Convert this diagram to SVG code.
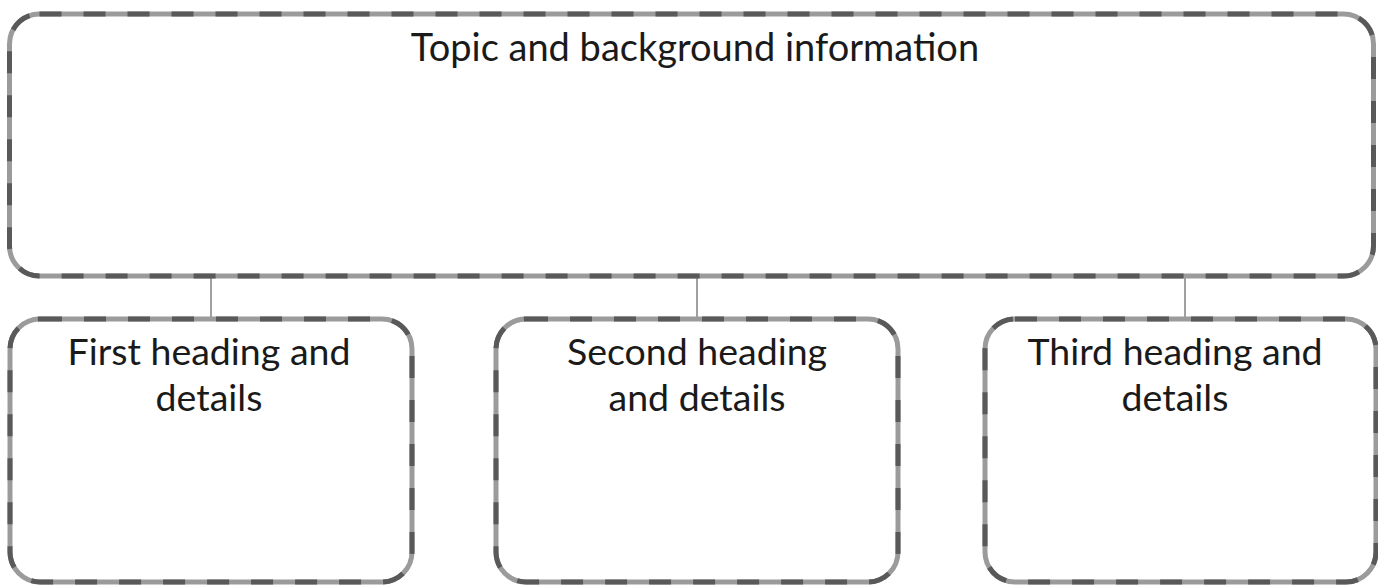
<svg xmlns="http://www.w3.org/2000/svg" width="1378" height="586" viewBox="0 0 1378 586">
<style>
.base{fill:none;stroke:#9b9b9b;stroke-width:5}
.dash{fill:none;stroke:#595959;stroke-width:5;stroke-dasharray:22 22}
.conn{stroke:#a0a0a0;stroke-width:2;fill:none}
text{font-family:Lato,"Open Sans","Liberation Sans",sans-serif;fill:#1a1a1a;text-anchor:middle}
.t{font-size:38px}
.s{font-size:37.5px}
</style>
<rect width="1378" height="586" fill="#fff"/>
<g id="connectors">
<line class="conn" x1="211" y1="278" x2="211" y2="317"/>
<line class="conn" x1="697" y1="278" x2="697" y2="317"/>
<line class="conn" x1="1185" y1="278" x2="1185" y2="317"/>
</g>
<g id="topic">
<rect class="base" x="9.5" y="14" width="1364" height="262" rx="30"/>
<rect class="dash" x="9.5" y="14" width="1364" height="262" rx="30"/>
<text class="t" x="695" y="61">Topic and background information</text>
</g>
<g id="first">
<rect class="base" x="10" y="319" width="402" height="263" rx="30"/>
<rect class="dash" x="10" y="319" width="402" height="263" rx="30"/>
<text class="s" x="209" y="365">First heading and</text>
<text class="s" x="209" y="411">details</text>
</g>
<g id="second">
<rect class="base" x="496" y="319" width="402" height="263" rx="30"/>
<rect class="dash" x="496" y="319" width="402" height="263" rx="30"/>
<text class="s" x="697" y="365">Second heading</text>
<text class="s" x="697" y="411">and details</text>
</g>
<g id="third">
<rect class="base" x="985" y="319" width="391" height="263" rx="30"/>
<rect class="dash" x="985" y="319" width="391" height="263" rx="30"/>
<text class="s" x="1175" y="365">Third heading and</text>
<text class="s" x="1175" y="411">details</text>
</g>
</svg>
